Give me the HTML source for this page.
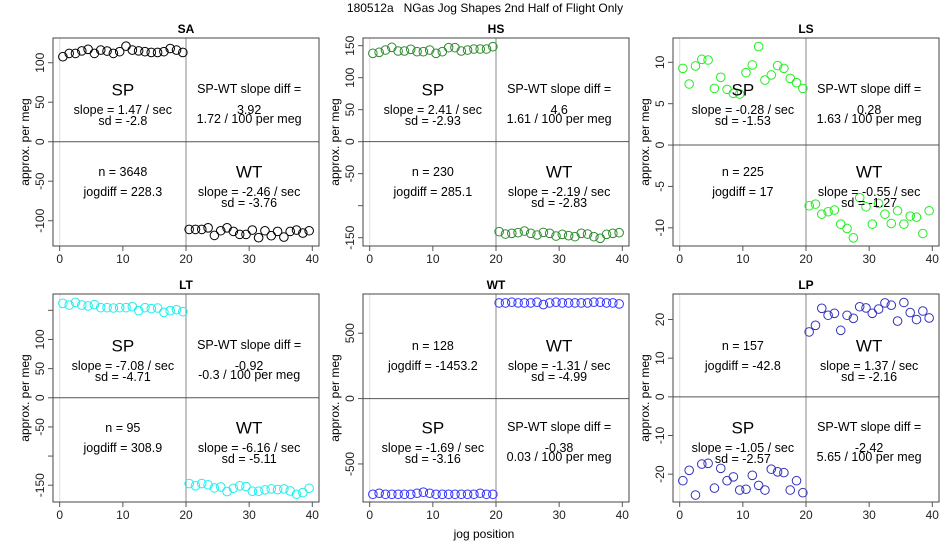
<!DOCTYPE html>
<html><head><meta charset="utf-8"><style>
html,body{margin:0;padding:0;background:#fff;}
svg{display:block;font-family:"Liberation Sans",Arial,sans-serif;}
</style></head><body>
<svg id="chart" width="950" height="550" viewBox="0 0 950 550">
<text x="485" y="12" font-size="12" text-anchor="middle" style="white-space:pre" xml:space="preserve">180512a   NGas Jog Shapes 2nd Half of Flight Only</text>
<text x="484" y="538" font-size="12" text-anchor="middle">jog position</text>
</svg>
<script>
const panelNames = ["SA","HS","LS","LT","WT","LP"];
const panelColors = ["#000000","#2e8b2e","#22ee22","#22eeee","#3333ff","#3333bb"];
const yMin = [-132,-163,-12.2,-178.8,-791,-27.2];
const yMax = [131.3,162,12.94,178,800,26.6];
const yTicks = [[100,50,0,-50,-100],[150,100,50,0,-50,-100,-150],[10,5,0,-5,-10],[150,100,50,0,-50,-100,-150],[500,0,-500],[20,10,0,-10,-20]];
const yTickLabels = [["100","50","0","-50","-100"],["150","100","50","0","-50","","-150"],["10","5","0","-5","-10"],["","100","50","0","-50","","-150"],["500","0","-500"],["20","10","0","-10","-20"]];
const xTicks = [0,10,20,30,40];
const jogPos = [0.5,1.5,2.5,3.5,4.5,5.5,6.5,7.5,8.5,9.5,10.5,11.5,12.5,13.5,14.5,15.5,16.5,17.5,18.5,19.5,20.5,21.5,22.5,23.5,24.5,25.5,26.5,27.5,28.5,29.5,30.5,31.5,32.5,33.5,34.5,35.5,36.5,37.5,38.5,39.5];
const valsSA = [107.6,111.8,111.8,115,117,111.8,116,114.8,111.8,114,121,116,115,114,113,113,114,118,116,113,-111,-111,-111,-109,-118.6,-112.7,-109,-113.5,-117.3,-117.3,-111.8,-121.5,-112.7,-119,-113.5,-120.7,-113.5,-111.8,-115.6,-112.7];
const valsHS = [138,139.6,143.2,147.4,141.7,141.7,144.3,140.6,140.6,143.2,138,140.6,146.9,146.9,141.7,143.2,144.8,144.8,144.8,148.4,-140.6,-144.3,-143.2,-142.2,-139.6,-143.2,-145.8,-141.7,-143.2,-147.4,-144.8,-146.9,-148.4,-143.2,-144.3,-148.4,-151,-144.8,-143.2,-142.2];
const valsLS = [9.27,7.38,9.56,10.36,10.28,6.85,8.19,6.73,6.25,6.17,8.75,9.68,11.9,7.86,8.47,9.6,9.27,8.06,7.54,6.85,-7.34,-7.14,-8.35,-8.06,-7.86,-9.56,-10.08,-11.21,-6.37,-7.46,-9.56,-7.06,-8.35,-9.48,-7.94,-9.56,-8.59,-8.71,-10.69,-7.94];
const valsLT = [162,159,163.8,159,157.5,159.8,154.6,154.6,154,154.6,154.6,156.3,149.4,154.6,152.9,154,146.6,149.4,151.1,147.7,-147.1,-151.1,-147.1,-149.4,-154.6,-152.9,-160.9,-155.2,-151.1,-152.3,-160.3,-160.3,-158,-156.3,-157.5,-156.3,-159.8,-165.5,-162.6,-155.2];
const valsWT = [-732,-724,-732,-732,-732,-732,-732,-724,-716,-724,-732,-732,-732,-732,-732,-732,-732,-724,-732,-732,732,732,737,732,732,732,737,719,732,737,732,732,732,732,732,737,737,732,732,724];
const valsLP = [-21.7,-19,-25.4,-17.4,-17.2,-23.6,-18.5,-21.7,-20.7,-24.1,-23.9,-20.3,-22.9,-24.1,-18.7,-19.4,-19.6,-24.1,-21.7,-24.8,16.8,18.5,22.9,21.1,21.6,17.2,21.1,20.3,23.3,23,21.6,22.7,24.3,23.7,19.6,24.4,21.8,20,22.2,20.4];
const allVals = [valsSA,valsHS,valsLS,valsLT,valsWT,valsLP];
const spFirstTop = [true,true,true,true,false,false];
const spLines = [["slope = 1.47 / sec","sd = -2.8"],["slope = 2.41 / sec","sd = -2.93"],["slope = -0.28 / sec","sd = -1.53"],["slope = -7.08 / sec","sd = -4.71"],["slope = -1.69 / sec","sd = -3.16"],["slope = -1.05 / sec","sd = -2.57"]];
const wtLines = [["slope = -2.46 / sec","sd = -3.76"],["slope = -2.19 / sec","sd = -2.83"],["slope = -0.55 / sec","sd = -1.27"],["slope = -6.16 / sec","sd = -5.11"],["slope = -1.31 / sec","sd = -4.99"],["slope = 1.37 / sec","sd = -2.16"]];
const diffLines = [["3.92","1.72 / 100 per meg"],["4.6","1.61 / 100 per meg"],["0.28","1.63 / 100 per meg"],["-0.92","-0.3 / 100 per meg"],["-0.38","0.03 / 100 per meg"],["-2.42","5.65 / 100 per meg"]];
const nLines = [["n = 3648","jogdiff = 228.3"],["n = 230","jogdiff = 285.1"],["n = 225","jogdiff = 17"],["n = 95","jogdiff = 308.9"],["n = 128","jogdiff = -1453.2"],["n = 157","jogdiff = -42.8"]];

const svg = document.getElementById('chart');
const NS = 'http://www.w3.org/2000/svg';
function mk(tag, attrs, parent){const e=document.createElementNS(NS,tag);for(const k in attrs)e.setAttribute(k,attrs[k]);(parent||svg).appendChild(e);return e;}
function txt(x,y,s,size,parent,extra){const t=mk('text',Object.assign({x:x,y:y,'font-size':size,'text-anchor':'middle','dominant-baseline':'central'},extra||{}),parent);t.textContent=s;return t;}

const BW=266, BH=208;
const boxLefts=[53,363,673], boxTops=[38,294];
const X0=-1.06, X1=41.06;

panelNames.forEach((name,i)=>{
  const col=i%3,row=Math.floor(i/3);
  const L=boxLefts[col],T=boxTops[row];
  const xs=v=>L+(v-X0)/(X1-X0)*BW;
  const ys=v=>T+(yMax[i]-v)/(yMax[i]-yMin[i])*BH;
  const g=mk('g',{});
  
  
  const l0=mk('line',{x1:xs(0),x2:xs(0),y1:T,y2:T+BH,stroke:'#dddddd','stroke-width':1},g);
  
  const lv=mk('line',{x1:xs(20),x2:xs(20),y1:T,y2:T+BH,stroke:'#888888','stroke-width':1},g);
  
  const lh=mk('line',{x1:L,x2:L+BW,y1:ys(0),y2:ys(0),stroke:'#555555','stroke-width':1},g);
  
  const box=mk('rect',{x:L,y:T,width:BW,height:BH,fill:'none',stroke:'#444444','stroke-width':1},g);
  
  const pt=txt(L+BW/2,T-9,name,12,g,{'font-weight':'bold'});
  
  xTicks.forEach(v=>{
    const tk=mk('line',{x1:xs(v),x2:xs(v),y1:T+BH,y2:T+BH+5,stroke:'#555','stroke-width':1},g);
    
    const tl=txt(xs(v),T+BH+13,String(v),12,g,{fill:'#222'});
    
  });
  yTicks[i].forEach((v,j)=>{
    const y=ys(v);
    const tk=mk('line',{x1:L-5,x2:L,y1:y,y2:y,stroke:'#555','stroke-width':1},g);
    
    if(yTickLabels[i][j]){
      const tl=txt(0,0,yTickLabels[i][j],12,g,{fill:'#222',transform:'translate('+(L-13)+','+y+') rotate(-90)'});
      
    }
  });
  const yt=txt(0,0,'approx. per meg',12,g,{transform:'translate('+(L-28)+','+(T+BH/2)+') rotate(-90)'});
  
  allVals[i].forEach((v,k)=>{
    const c=mk('circle',{cx:xs(jogPos[k]),cy:ys(v),r:4.3,fill:'none',stroke:panelColors[i],'stroke-width':1},g);
    
    
  });
  const xl=L+(10-X0)/(X1-X0)*BW, xr=L+(30-X0)/(X1-X0)*BW;
  const topRows=[T+52,T+72,T+83], botRows=[T+134,T+154,T+165];
  const spRows=spFirstTop[i]?topRows:botRows, otherRows=spFirstTop[i]?botRows:topRows;
  let a=txt(xl,spRows[0],'SP',17,g);
  a=txt(xl,spRows[1],spLines[i][0],12.5,g);
  a=txt(xl,spRows[2],spLines[i][1],12.5,g);
  a=txt(xr,spRows[0]-1,'SP-WT slope diff =',12.5,g);
  a=txt(xr,spRows[1],diffLines[i][0],12.5,g);
  a=txt(xr,spRows[2]-2,diffLines[i][1],12.5,g);
  a=txt(xl,otherRows[0],nLines[i][0],12.5,g);
  a=txt(xl,otherRows[1],nLines[i][1],12.5,g);
  a=txt(xr,otherRows[0],'WT',17,g);
  a=txt(xr,otherRows[1],wtLines[i][0],12.5,g);
  a=txt(xr,otherRows[2],wtLines[i][1],12.5,g);
});
</script>
</body></html>
